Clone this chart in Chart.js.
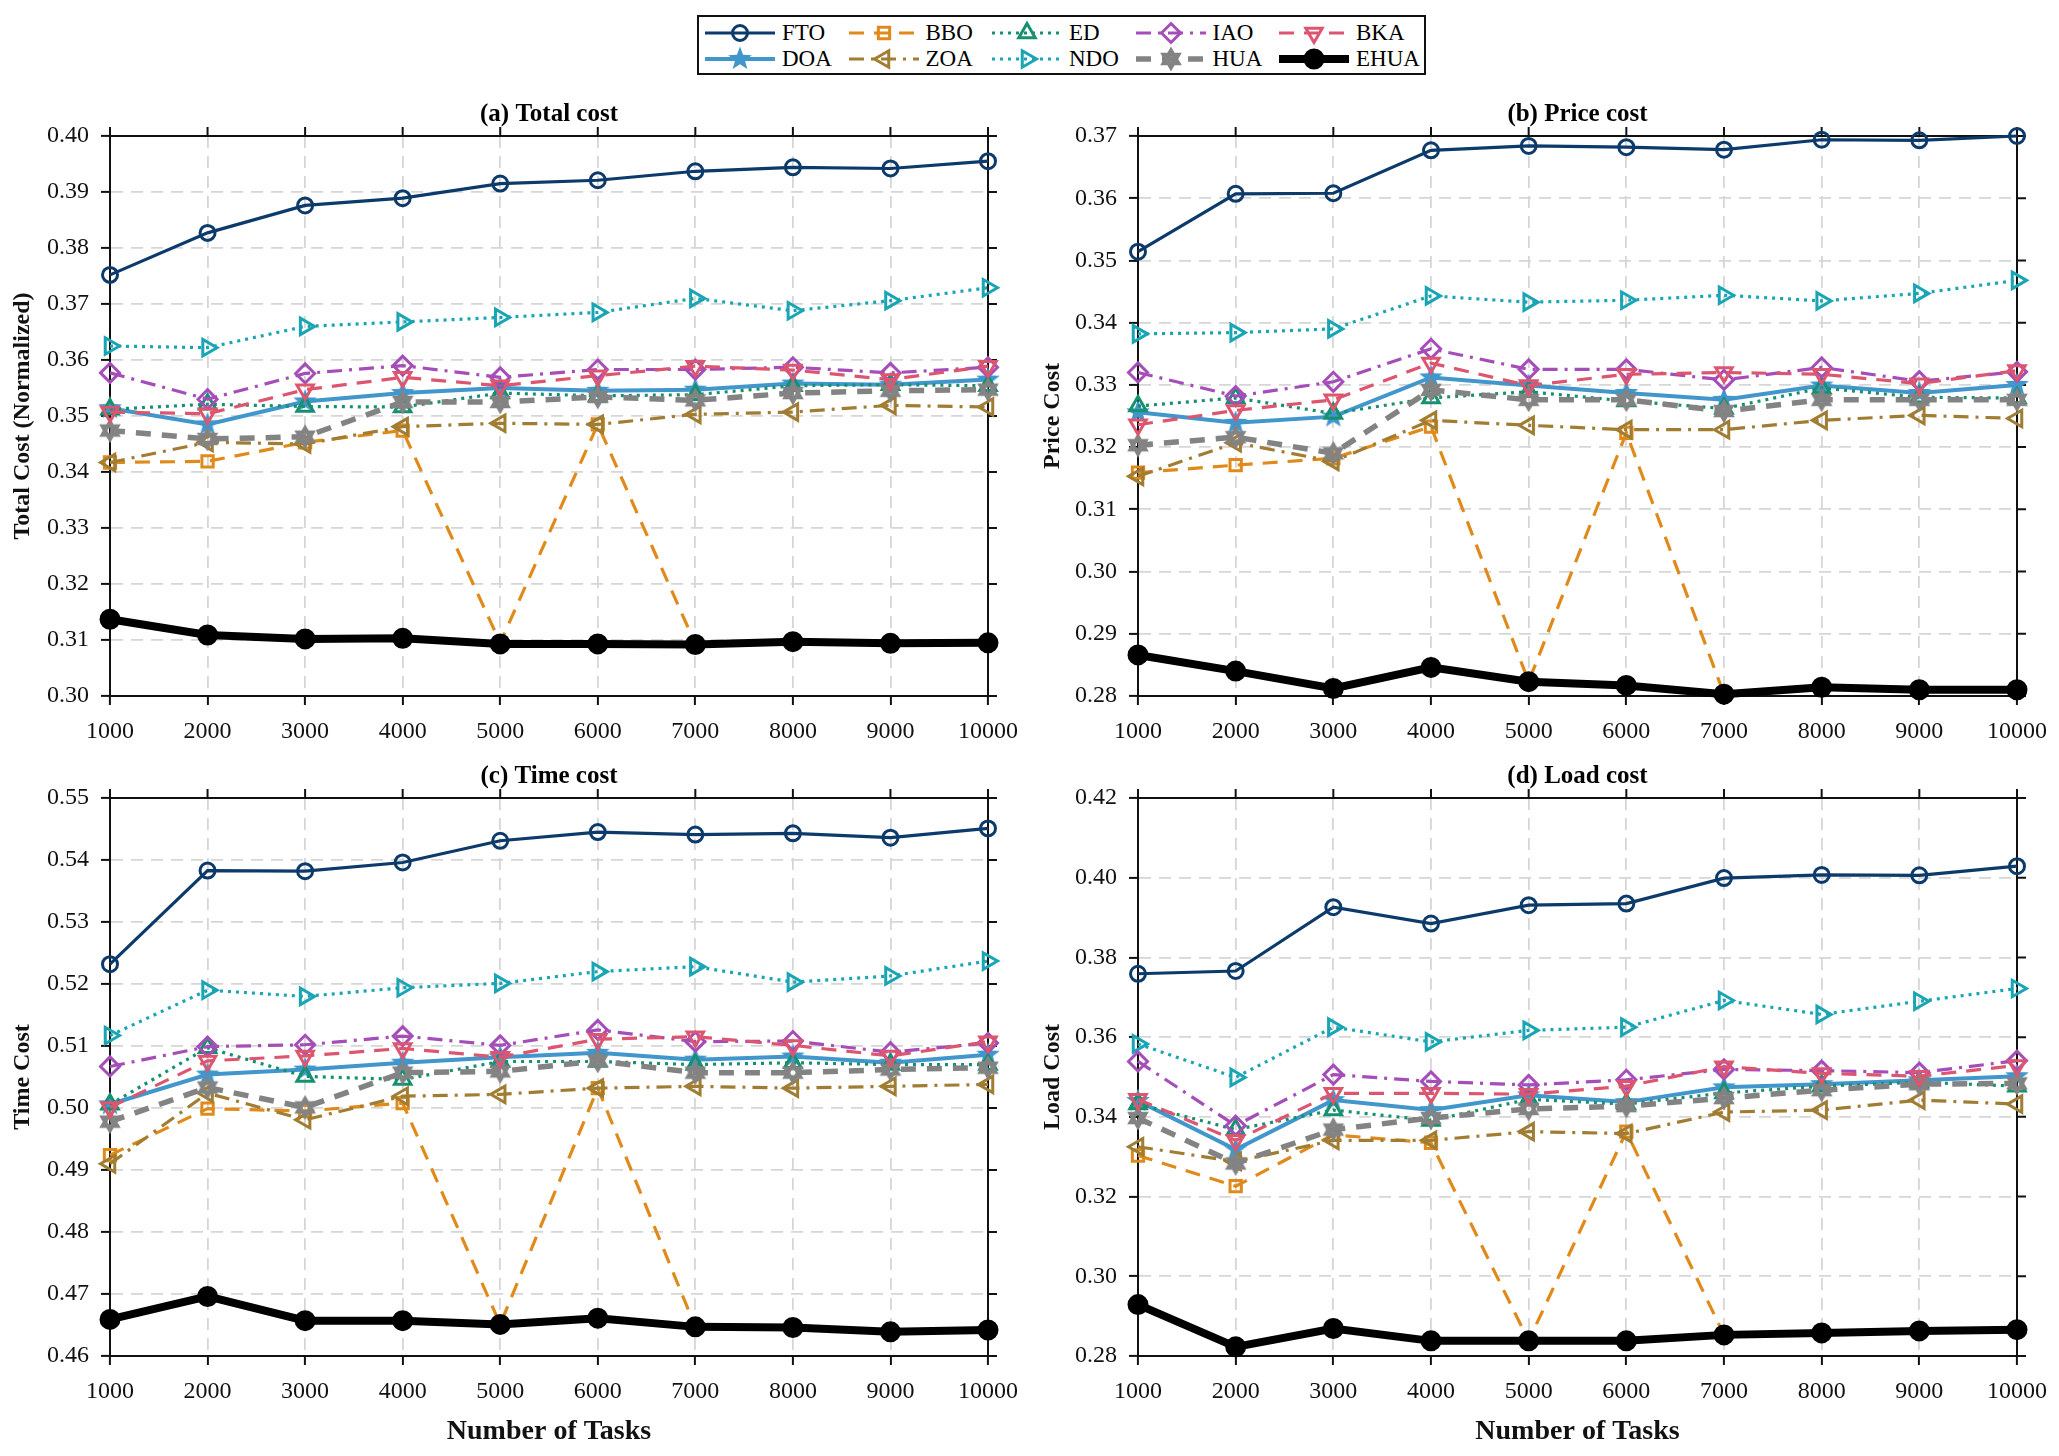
<!DOCTYPE html>
<html><head><meta charset="utf-8">
<script src="https://cdn.jsdelivr.net/npm/chart.js@4.4.1/dist/chart.umd.min.js"></script>
<style>
html,body{margin:0;padding:0;background:#fff;}
body{width:2059px;height:1456px;position:relative;overflow:hidden;font-family:"Liberation Serif","Times New Roman",serif;}
.panel{position:absolute;}
#legendBox{position:absolute;left:697px;top:15px;width:729px;height:60px;border:2px solid #111;box-sizing:border-box;background:#fff;}
.lgItem{position:absolute;height:26px;}
.lgItem span{position:absolute;top:0;font-size:23px;line-height:26px;color:#000;white-space:nowrap;}
</style>
</head><body>
<div id="legendBox"></div>
<div class="panel" id="pa"><canvas id="ca"></canvas></div>
<div class="panel" id="pb"><canvas id="cb"></canvas></div>
<div class="panel" id="pc"><canvas id="cc"></canvas></div>
<div class="panel" id="pd"><canvas id="cd"></canvas></div>
<script>
// ---------------- DATA ----------------
const tasks = ['1000','2000','3000','4000','5000','6000','7000','8000','9000','10000'];
const seriesNames = ['FTO','DOA','BBO','ZOA','ED','NDO','IAO','HUA','BKA','EHUA'];

// (a) Total cost
const totalFTO  = [0.3752,0.3827,0.3876,0.3889,0.3915,0.3921,0.3937,0.3944,0.3942,0.3955];
const totalDOA  = [0.3514,0.3485,0.3526,0.3541,0.3550,0.3545,0.3547,0.3558,0.3556,0.3565];
const totalBBO  = [0.3417,0.3419,0.3453,0.3474,0.3095,0.3485,0.3093,0.3097,0.3094,0.3095];
const totalZOA  = [0.3417,0.3453,0.3450,0.3481,0.3487,0.3485,0.3503,0.3507,0.3519,0.3516];
const totalED   = [0.3512,0.3521,0.3517,0.3516,0.3541,0.3536,0.3538,0.3554,0.3556,0.3554];
const totalNDO  = [0.3625,0.3622,0.3660,0.3668,0.3676,0.3685,0.3710,0.3688,0.3706,0.3729];
const totalIAO  = [0.3577,0.3530,0.3576,0.3590,0.3569,0.3583,0.3583,0.3587,0.3577,0.3587];
const totalHUA  = [0.3474,0.3459,0.3463,0.3525,0.3525,0.3534,0.3528,0.3541,0.3545,0.3547];
const totalBKA  = [0.3507,0.3504,0.3547,0.3569,0.3554,0.3572,0.3589,0.3582,0.3565,0.3589];
const totalEHUA = [0.3137,0.3109,0.3102,0.3103,0.3093,0.3093,0.3092,0.3097,0.3094,0.3095];
const totalTicks = [0.30,0.31,0.32,0.33,0.34,0.35,0.36,0.37,0.38,0.39,0.40];

// (b) Price cost
const priceFTO  = [0.3514,0.3607,0.3608,0.3677,0.3684,0.3682,0.3678,0.3694,0.3693,0.3700];
const priceDOA  = [0.3256,0.3239,0.3249,0.3312,0.3299,0.3287,0.3276,0.3299,0.3287,0.3300];
const priceBBO  = [0.3159,0.3171,0.3182,0.3233,0.2823,0.3223,0.2803,0.2814,0.2810,0.2810];
const priceZOA  = [0.3153,0.3207,0.3177,0.3243,0.3235,0.3228,0.3228,0.3243,0.3251,0.3246];
const priceED   = [0.3266,0.3279,0.3254,0.3279,0.3289,0.3274,0.3262,0.3295,0.3280,0.3279];
const priceNDO  = [0.3382,0.3384,0.3390,0.3443,0.3433,0.3436,0.3444,0.3435,0.3447,0.3468];
const priceIAO  = [0.3320,0.3282,0.3305,0.3358,0.3325,0.3325,0.3308,0.3328,0.3306,0.3321];
const priceHUA  = [0.3203,0.3216,0.3190,0.3292,0.3276,0.3276,0.3258,0.3276,0.3276,0.3276];
const priceBKA  = [0.3236,0.3259,0.3276,0.3335,0.3299,0.3317,0.3320,0.3317,0.3302,0.3323];
const priceEHUA = [0.2866,0.2840,0.2812,0.2846,0.2823,0.2817,0.2803,0.2814,0.2810,0.2810];
const priceTicks = [0.28,0.29,0.30,0.31,0.32,0.33,0.34,0.35,0.36,0.37];

// (c) Time cost
const timeFTO  = [0.5232,0.5383,0.5382,0.5396,0.5431,0.5445,0.5441,0.5443,0.5436,0.5451];
const timeDOA  = [0.5006,0.5054,0.5062,0.5073,0.5082,0.5089,0.5078,0.5083,0.5073,0.5086];
const timeBBO  = [0.4924,0.4999,0.4995,0.5008,0.4651,0.5032,0.4647,0.4646,0.4639,0.4642];
const timeZOA  = [0.4910,0.5024,0.4981,0.5019,0.5022,0.5032,0.5035,0.5032,0.5035,0.5038];
const timeED   = [0.5006,0.5097,0.5051,0.5046,0.5075,0.5075,0.5070,0.5073,0.5070,0.5070];
const timeNDO  = [0.5117,0.5190,0.5180,0.5194,0.5201,0.5220,0.5228,0.5203,0.5213,0.5237];
const timeIAO  = [0.5067,0.5099,0.5102,0.5116,0.5101,0.5126,0.5107,0.5108,0.5090,0.5105];
const timeHUA  = [0.4978,0.5033,0.5001,0.5057,0.5059,0.5076,0.5057,0.5057,0.5062,0.5065];
const timeBKA  = [0.5001,0.5076,0.5084,0.5096,0.5082,0.5111,0.5115,0.5101,0.5084,0.5107];
const timeEHUA = [0.4659,0.4696,0.4657,0.4657,0.4651,0.4661,0.4647,0.4646,0.4639,0.4642];
const timeTicks = [0.46,0.47,0.48,0.49,0.50,0.51,0.52,0.53,0.54,0.55];

// (d) Load cost
const loadFTO  = [0.3759,0.3766,0.3926,0.3885,0.3931,0.3935,0.3999,0.4007,0.4006,0.4029];
const loadDOA  = [0.3440,0.3318,0.3442,0.3417,0.3454,0.3437,0.3474,0.3482,0.3492,0.3502];
const loadBBO  = [0.3303,0.3226,0.3355,0.3335,0.2838,0.3363,0.2853,0.2858,0.2863,0.2866];
const loadZOA  = [0.3325,0.3288,0.3341,0.3341,0.3363,0.3358,0.3412,0.3417,0.3442,0.3432];
const loadED   = [0.3432,0.3368,0.3417,0.3391,0.3444,0.3432,0.3460,0.3477,0.3487,0.3477];
const loadNDO  = [0.3583,0.3499,0.3625,0.3588,0.3617,0.3625,0.3692,0.3657,0.3690,0.3722];
const loadIAO  = [0.3539,0.3378,0.3506,0.3489,0.3480,0.3493,0.3519,0.3516,0.3511,0.3541];
const loadHUA  = [0.3397,0.3283,0.3368,0.3397,0.3420,0.3427,0.3447,0.3467,0.3482,0.3484];
const loadBKA  = [0.3444,0.3341,0.3459,0.3459,0.3457,0.3477,0.3526,0.3509,0.3502,0.3529];
const loadEHUA = [0.2929,0.2823,0.2869,0.2838,0.2838,0.2838,0.2853,0.2858,0.2863,0.2866];
const loadTicks = [0.28,0.30,0.32,0.34,0.36,0.38,0.40,0.42];

// ---------------- STYLES ----------------
const FONT = "'Liberation Serif','Times New Roman',serif";
Chart.defaults.font.family = FONT;
Chart.defaults.color = '#111';

function makeStar(color, n, R, r, hole){
  const s = Math.ceil(2*R+3);
  const c = document.createElement('canvas'); c.width = s; c.height = s;
  const g = c.getContext('2d'); g.fillStyle = color; g.beginPath();
  for (let i=0;i<2*n;i++){
    const ang = -Math.PI/2 + i*Math.PI/n; const rr = (i%2)? r : R;
    g.lineTo(s/2 + rr*Math.cos(ang), s/2 + rr*Math.sin(ang));
  }
  g.closePath(); g.fill();
  if (hole){ g.globalCompositeOperation='destination-out'; g.beginPath(); g.arc(s/2,s/2,hole,0,2*Math.PI); g.fill(); }
  return c;
}

const styles = {
  FTO:  {color:'#0c3b6b', width:3.2, dash:[],           point:'circle',   rot:0,   radius:7.5, pbw:3,   fill:false},
  DOA:  {color:'#4196cc', width:4,   dash:[],           point:makeStar('#4196cc',5,12.5,5.2,0), rot:0, radius:10, pbw:1, fill:true},
  BBO:  {color:'#e08a1b', width:3.2, dash:[15,10],      point:'rect',     rot:0,   radius:8,   pbw:3,   fill:false},
  ZOA:  {color:'#a07d32', width:3.2, dash:[15,7,3,7],   point:'triangle', rot:270, radius:9.5, pbw:3,   fill:false},
  ED:   {color:'#16906f', width:3.2, dash:[3,5],        point:'triangle', rot:0,   radius:9.5, pbw:3,   fill:false},
  NDO:  {color:'#1aa5b5', width:3.2, dash:[3,5],        point:'triangle', rot:90,  radius:9.5, pbw:3,   fill:false},
  IAO:  {color:'#a54db8', width:3.2, dash:[15,7,3,7],   point:'rectRot',  rot:0,   radius:9.5, pbw:3,   fill:false},
  HUA:  {color:'#838383', width:5.5, dash:[15,11],      point:makeStar('#838383',6,12.5,7.2,2.5), rot:0, radius:10, pbw:1, fill:true},
  BKA:  {color:'#dc5670', width:3.2, dash:[15,10],      point:'triangle', rot:180, radius:9.5, pbw:3,   fill:false},
  EHUA: {color:'#000000', width:8,   dash:[],           point:'circle',   rot:0,   radius:9.5, pbw:2,   fill:true}
};

// ---------------- LEGEND (HTML) ----------------
function drawMarker(g, st, x, y){
  g.save(); g.setLineDash([]);
  g.strokeStyle = st.color; g.fillStyle = st.fill ? st.color : 'rgba(0,0,0,0)'; g.lineWidth = st.pbw;
  if (typeof st.point !== 'string'){ g.drawImage(st.point, x - st.point.width/2, y - st.point.height/2); g.restore(); return; }
  const r = st.radius;
  g.translate(x,y); g.rotate(st.rot*Math.PI/180); g.beginPath();
  if (st.point==='circle'){ g.arc(0,0,r,0,2*Math.PI); }
  else if (st.point==='rect'){ const s=r/Math.SQRT2; g.rect(-s,-s,2*s,2*s); }
  else if (st.point==='rectRot'){ g.moveTo(0,-r); g.lineTo(r,0); g.lineTo(0,r); g.lineTo(-r,0); g.closePath(); }
  else if (st.point==='triangle'){
    g.moveTo(0,-r); g.lineTo(r*Math.sin(2*Math.PI/3), -r*Math.cos(2*Math.PI/3)); g.lineTo(-r*Math.sin(2*Math.PI/3), -r*Math.cos(2*Math.PI/3)); g.closePath();
  }
  g.fill(); g.stroke(); g.restore();
}
(function buildLegend(){
  seriesNames.forEach((name,k)=>{
    const st = styles[name];
    const col = Math.floor(k/2), row = k%2;
    const left = 704 + col*143.5, top = (row===0 ? 20 : 46);
    const item = document.createElement('div'); item.className='lgItem';
    item.style.left = left+'px'; item.style.top = top+'px'; item.style.width='140px';
    const cv = document.createElement('canvas'); cv.width=72; cv.height=26;
    cv.style.position='absolute'; cv.style.left='0px'; cv.style.top='0px';
    const g = cv.getContext('2d');
    g.strokeStyle = st.color; g.lineWidth = st.width; g.setLineDash(st.dash);
    g.beginPath(); g.moveTo(1,13); g.lineTo(71,13); g.stroke();
    drawMarker(g, st, 36, 13);
    const sp = document.createElement('span'); sp.textContent = name; sp.style.left='78px';
    item.appendChild(cv); item.appendChild(sp);
    document.body.appendChild(item);
  });
})();

// ---------------- CHARTS ----------------
const boxPlugin = {
  id:'boxTicks',
  beforeDatasetsDraw(chart){
    const {ctx, chartArea:a} = chart; const x = chart.scales.x, y = chart.scales.y;
    ctx.save(); ctx.strokeStyle='#111'; ctx.lineWidth=2; ctx.setLineDash([]);
    ctx.beginPath();
    ctx.moveTo(a.left,a.top); ctx.lineTo(a.right,a.top); ctx.lineTo(a.right,a.bottom);
    const L = 9;
    x.ticks.forEach((t,i)=>{ const px = x.getPixelForTick(i); ctx.moveTo(px,a.top); ctx.lineTo(px,a.top-L); });
    y.ticks.forEach((t)=>{ const py = y.getPixelForValue(t.value); ctx.moveTo(a.right,py); ctx.lineTo(a.right+L,py); });
    ctx.stroke(); ctx.restore();
  }
};

const panels = [
  {canvas:'ca', div:'pa', left:0,    top:90,  width:1030, height:680, yWidth:110, xHeight:74,  title:'(a) Total cost', yTitle:'Total Cost (Normalized)', xTitle:'', ticks:totalTicks,
   series:[totalFTO,totalDOA,totalBBO,totalZOA,totalED,totalNDO,totalIAO,totalHUA,totalBKA,totalEHUA]},
  {canvas:'cb', div:'pb', left:1030, top:90,  width:1029, height:680, yWidth:108, xHeight:74,  title:'(b) Price cost', yTitle:'Price Cost', xTitle:'', ticks:priceTicks,
   series:[priceFTO,priceDOA,priceBBO,priceZOA,priceED,priceNDO,priceIAO,priceHUA,priceBKA,priceEHUA]},
  {canvas:'cc', div:'pc', left:0,    top:752, width:1030, height:704, yWidth:110, xHeight:100, title:'(c) Time cost', yTitle:'Time Cost', xTitle:'Number of Tasks', ticks:timeTicks,
   series:[timeFTO,timeDOA,timeBBO,timeZOA,timeED,timeNDO,timeIAO,timeHUA,timeBKA,timeEHUA]},
  {canvas:'cd', div:'pd', left:1030, top:752, width:1029, height:704, yWidth:108, xHeight:100, title:'(d) Load cost', yTitle:'Load Cost', xTitle:'Number of Tasks', ticks:loadTicks,
   series:[loadFTO,loadDOA,loadBBO,loadZOA,loadED,loadNDO,loadIAO,loadHUA,loadBKA,loadEHUA]}
];

panels.forEach(p=>{
  const d = document.getElementById(p.div);
  d.style.left=p.left+'px'; d.style.top=p.top+'px'; d.style.width=p.width+'px'; d.style.height=p.height+'px';
  const datasets = seriesNames.map((name,k)=>{
    const st = styles[name];
    return {
      label:name, data:p.series[k], order: seriesNames.length - k,
      borderColor:st.color, backgroundColor:st.color, borderWidth:st.width, borderDash:st.dash,
      tension:0, clip:false, fill:false,
      pointStyle:st.point, pointRotation:st.rot, pointRadius:st.radius, pointHoverRadius:st.radius,
      pointBorderWidth:st.pbw, pointBorderColor:st.color,
      pointBackgroundColor: st.fill ? st.color : 'rgba(0,0,0,0)'
    };
  });
  const yt = p.ticks;
  new Chart(document.getElementById(p.canvas), {
    type:'line',
    data:{labels:tasks, datasets},
    options:{
      responsive:true, maintainAspectRatio:false, animation:false,
      events:[],
      layout:{padding:{left:0, right:41, top:0, bottom:0}},
      plugins:{
        legend:{display:false}, tooltip:{enabled:false},
        title:{display:true, text:p.title, fullSize:false, color:'#000',
               font:{family:FONT, size:25, weight:'bold'}, padding:{top:10,bottom:6}}
      },
      scales:{
        x:{type:'category', offset:false,
           grid:{display:true, color:'#d6d6d6', lineWidth:1.8, drawTicks:true, tickLength:9, tickColor:'#111', tickWidth:2},
           border:{display:true, color:'#111', width:2, dash:[12,8]},
           ticks:{autoSkip:false, maxRotation:0, minRotation:0, padding:12, color:'#111', font:{family:FONT, size:24}},
           title:{display: !!p.xTitle, text:p.xTitle, color:'#111', font:{family:FONT, size:28, weight:'bold'}, padding:{top:0,bottom:7}},
           afterFit:(s)=>{ s.height = p.xHeight; }
        },
        y:{type:'linear', min:yt[0], max:yt[yt.length-1],
           afterBuildTicks:(s)=>{ s.ticks = yt.map(v=>({value:v})); },
           grid:{display:true, color:'#d6d6d6', lineWidth:1.8, drawTicks:true, tickLength:9, tickColor:'#111', tickWidth:2},
           border:{display:true, color:'#111', width:2, dash:[12,8]},
           ticks:{padding:12, color:'#111', font:{family:FONT, size:24}, callback:(v)=>Number(v).toFixed(2)},
           title:{display:true, text:p.yTitle, color:'#111', font:{family:FONT, size:24, weight:'bold'}, padding:{top:8,bottom:0}},
           afterFit:(s)=>{ s.width = p.yWidth; }
        }
      }
    },
    plugins:[boxPlugin]
  });
});
</script>
</body></html>
